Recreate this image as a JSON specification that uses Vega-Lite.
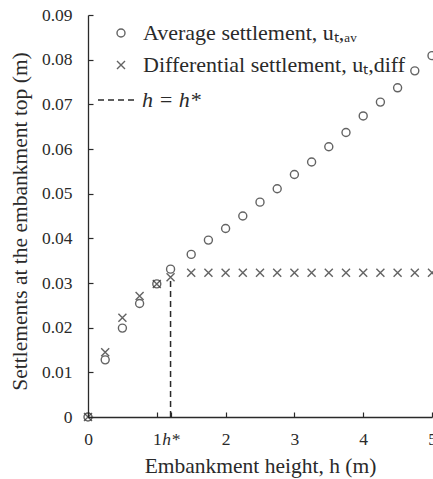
{
  "$schema": "https://vega.github.io/schema/vega-lite/v6.json",
  "width": 344,
  "height": 402,
  "autosize": {"type": "none"},
  "padding": {"left": 88, "top": 15, "right": 1, "bottom": 62},
  "background": "white",
  "config": {
    "view": {"stroke": null},
    "font": "Liberation Serif",
    "axis": {
      "labelFont": "Liberation Serif",
      "titleFont": "Liberation Serif",
      "labelFontSize": 17.5,
      "titleFontSize": 21.5,
      "titleFontWeight": "normal",
      "labelColor": "#2a2a2a",
      "titleColor": "#2a2a2a",
      "domainColor": "#2a2a2a",
      "tickColor": "#2a2a2a",
      "domainWidth": 1.3,
      "tickWidth": 1.2,
      "grid": false
    },
    "legend": {
      "labelFont": "Liberation Serif",
      "labelFontSize": 22,
      "labelColor": "#2a2a2a",
      "labelLimit": 0,
      "padding": 0
    }
  },
  "datasets": {
    "pts": [
      {"h": 0, "u": 0, "series": "Average settlement, uₜ,ₐᵥ"},
      {"h": 0.25, "u": 0.0128, "series": "Average settlement, uₜ,ₐᵥ"},
      {"h": 0.5, "u": 0.0199, "series": "Average settlement, uₜ,ₐᵥ"},
      {"h": 0.75, "u": 0.0254, "series": "Average settlement, uₜ,ₐᵥ"},
      {"h": 1.0, "u": 0.0298, "series": "Average settlement, uₜ,ₐᵥ"},
      {"h": 1.2, "u": 0.0331, "series": "Average settlement, uₜ,ₐᵥ"},
      {"h": 1.5, "u": 0.0364, "series": "Average settlement, uₜ,ₐᵥ"},
      {"h": 1.75, "u": 0.0396, "series": "Average settlement, uₜ,ₐᵥ"},
      {"h": 2.0, "u": 0.0422, "series": "Average settlement, uₜ,ₐᵥ"},
      {"h": 2.25, "u": 0.045, "series": "Average settlement, uₜ,ₐᵥ"},
      {"h": 2.5, "u": 0.0481, "series": "Average settlement, uₜ,ₐᵥ"},
      {"h": 2.75, "u": 0.0511, "series": "Average settlement, uₜ,ₐᵥ"},
      {"h": 3.0, "u": 0.0543, "series": "Average settlement, uₜ,ₐᵥ"},
      {"h": 3.25, "u": 0.0571, "series": "Average settlement, uₜ,ₐᵥ"},
      {"h": 3.5, "u": 0.0605, "series": "Average settlement, uₜ,ₐᵥ"},
      {"h": 3.75, "u": 0.0637, "series": "Average settlement, uₜ,ₐᵥ"},
      {"h": 4.0, "u": 0.0674, "series": "Average settlement, uₜ,ₐᵥ"},
      {"h": 4.25, "u": 0.0705, "series": "Average settlement, uₜ,ₐᵥ"},
      {"h": 4.5, "u": 0.0737, "series": "Average settlement, uₜ,ₐᵥ"},
      {"h": 4.75, "u": 0.0775, "series": "Average settlement, uₜ,ₐᵥ"},
      {"h": 5.0, "u": 0.0809, "series": "Average settlement, uₜ,ₐᵥ"},
      {"h": 0, "u": 0, "series": "Differential settlement, uₜ,diff"},
      {"h": 0.25, "u": 0.0145, "series": "Differential settlement, uₜ,diff"},
      {"h": 0.5, "u": 0.0222, "series": "Differential settlement, uₜ,diff"},
      {"h": 0.75, "u": 0.0271, "series": "Differential settlement, uₜ,diff"},
      {"h": 1.0, "u": 0.0298, "series": "Differential settlement, uₜ,diff"},
      {"h": 1.2, "u": 0.0313, "series": "Differential settlement, uₜ,diff"},
      {"h": 1.5, "u": 0.0323, "series": "Differential settlement, uₜ,diff"},
      {"h": 1.75, "u": 0.0323, "series": "Differential settlement, uₜ,diff"},
      {"h": 2.0, "u": 0.0323, "series": "Differential settlement, uₜ,diff"},
      {"h": 2.25, "u": 0.0323, "series": "Differential settlement, uₜ,diff"},
      {"h": 2.5, "u": 0.0323, "series": "Differential settlement, uₜ,diff"},
      {"h": 2.75, "u": 0.0323, "series": "Differential settlement, uₜ,diff"},
      {"h": 3.0, "u": 0.0323, "series": "Differential settlement, uₜ,diff"},
      {"h": 3.25, "u": 0.0323, "series": "Differential settlement, uₜ,diff"},
      {"h": 3.5, "u": 0.0323, "series": "Differential settlement, uₜ,diff"},
      {"h": 3.75, "u": 0.0323, "series": "Differential settlement, uₜ,diff"},
      {"h": 4.0, "u": 0.0323, "series": "Differential settlement, uₜ,diff"},
      {"h": 4.25, "u": 0.0323, "series": "Differential settlement, uₜ,diff"},
      {"h": 4.5, "u": 0.0323, "series": "Differential settlement, uₜ,diff"},
      {"h": 4.75, "u": 0.0323, "series": "Differential settlement, uₜ,diff"},
      {"h": 5.0, "u": 0.0323, "series": "Differential settlement, uₜ,diff"}
    ],
    "hstar": [
      {"h": 1.2, "u0": 0, "u1": 0.031, "label": "h = h*"}
    ]
  },
  "layer": [
    {
      "data": {"name": "hstar"},
      "mark": {"type": "rule", "strokeWidth": 1.5, "color": "#2a2a2a"},
      "encoding": {
        "x": {"field": "h", "type": "quantitative"},
        "y": {"field": "u0", "type": "quantitative"},
        "y2": {"field": "u1"},
        "strokeDash": {
          "field": "label",
          "type": "nominal",
          "scale": {"range": [[6, 4]]},
          "legend": {
            "title": null,
            "orient": "none",
            "legendX": 9,
            "legendY": 64,
            "symbolType": "stroke",
            "symbolSize": 1600,
            "symbolStrokeColor": "#2a2a2a",
            "symbolStrokeWidth": 1.5,
            "symbolDash": [6, 4],
            "labelOffset": 3,
            "labelFontStyle": "italic"
          }
        }
      }
    },
    {
      "data": {"name": "pts"},
      "mark": {"type": "point", "filled": false, "strokeWidth": 1.4, "color": "#222", "size": 64, "clip": false},
      "encoding": {
        "x": {
          "field": "h",
          "type": "quantitative",
          "scale": {"domain": [0, 5], "nice": false},
          "axis": {
            "title": "Embankment height, h (m)",
            "values": [0, 1, 1.2, 2, 3, 4, 5],
            "format": ".0f",
            "labelExpr": "datum.value == 1.2 ? 'h*' : datum.label",
            "labelFontStyle": {"condition": {"test": "datum.value == 1.2", "value": "italic"}, "value": "normal"},
            "labelOverlap": false,
            "labelBound": false,
            "labelFlush": false,
            "tickSize": -5,
            "labelPadding": 18,
            "titlePadding": 8
          }
        },
        "y": {
          "field": "u",
          "type": "quantitative",
          "scale": {"domain": [0, 0.09], "nice": false},
          "axis": {
            "title": "Settlements at the embankment top (m)",
            "values": [0, 0.01, 0.02, 0.03, 0.04, 0.05, 0.06, 0.07, 0.08, 0.09],
            "format": ".2~f",
            "tickSize": -5,
            "labelPadding": 21,
            "titlePadding": 10,
            "titleY": 206
          }
        },
        "shape": {
          "field": "series",
          "type": "nominal",
          "scale": {"range": ["circle", "M-1,-1L1,1M-1,1L1,-1"]},
          "legend": {
            "title": null,
            "orient": "none",
            "legendX": 22,
            "legendY": 7,
            "symbolStrokeColor": "#222",
            "symbolFillColor": "transparent",
            "symbolStrokeWidth": 1.4,
            "symbolSize": 64,
            "labelOffset": 11,
            "rowPadding": 10
          }
        }
      }
    }
  ]
}
